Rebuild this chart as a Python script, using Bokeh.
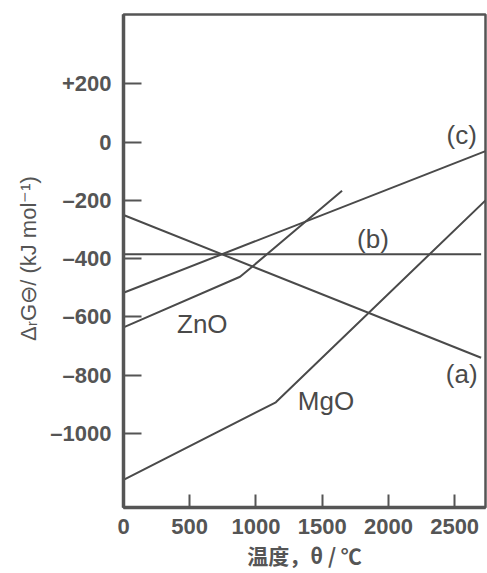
from bokeh.plotting import figure
from bokeh.models import FixedTicker, Range1d, Label
from bokeh.embed import file_html
from bokeh.resources import INLINE

# ---- data ----
x_ticks = [0, 500, 1000, 1500, 2000, 2500]
y_ticks = [200, 0, -200, -400, -600, -800, -1000]
y_tick_labels = ["+200", "0", "–200", "–400", "–600", "–800", "–1000"]

a_x = [0, 2700]
a_y = [-250, -740]

b_x = [0, 2700]
b_y = [-385, -385]

c_x = [0, 2733]
c_y = [-517, -31]

zno_x = [0, 880, 960, 1650]
zno_y = [-636, -462, -432, -167]

mgo_x = [0, 1150, 2733]
mgo_y = [-1159, -893, -200]

labels = ["(c)", "(b)", "(a)", "MgO", "ZnO"]

INK = "#4a4a4a"
AX = "#555555"

p = figure(width=487, height=572, output_backend="svg", toolbar_location=None,
           x_range=Range1d(0, 2733), y_range=Range1d(-1254, 438),
           min_border_left=123, min_border_top=14, min_border_right=2,
           min_border_bottom=60)
p.background_fill_color = "white"
p.border_fill_color = "white"
p.outline_line_color = AX
p.outline_line_width = 2.5
p.xgrid.visible = False
p.ygrid.visible = False

for xs, ys in [(a_x, a_y), (b_x, b_y), (c_x, c_y), (zno_x, zno_y), (mgo_x, mgo_y)]:
    p.line(xs, ys, line_color=INK, line_width=2)

# axes
p.xaxis.ticker = FixedTicker(ticks=x_ticks)
p.yaxis.ticker = FixedTicker(ticks=y_ticks)
p.yaxis.major_label_overrides = {t: l for t, l in zip(y_ticks, y_tick_labels)}
for ax in (p.xaxis, p.yaxis):
    ax.axis_line_color = AX
    ax.axis_line_width = 3.5
    ax.major_tick_line_color = AX
    ax.major_tick_line_width = 2
    ax.major_tick_out = 0
    ax.minor_tick_line_color = None
    ax.major_label_text_font = "Liberation Sans"
    ax.major_label_text_font_style = "bold"
    ax.major_label_text_font_size = "22px"
    ax.major_label_text_color = AX
    ax.axis_label_text_color = AX

p.yaxis.major_tick_in = 18
p.xaxis.major_tick_in = 13
p.yaxis.major_label_standoff = 12
p.xaxis.major_label_standoff = 11

p.yaxis.axis_label = "ΔᵣG⊖/ (kJ mol⁻¹)"
p.yaxis.axis_label_text_font = "Liberation Sans"
p.yaxis.axis_label_text_font_style = "normal"
p.yaxis.axis_label_text_font_size = "22px"
p.yaxis.axis_label_standoff = 6

p.xaxis.axis_label = "温度，θ / ℃"
p.xaxis.axis_label_text_font = "Noto Sans CJK SC"
p.xaxis.axis_label_text_font_style = "bold"
p.xaxis.axis_label_text_font_size = "21px"
p.xaxis.axis_label_standoff = 3

# curve annotations
label_pos = [(2553, 24), (1883, -333), (2553, -795), (1529, -887), (595, -625)]
for txt, (lx, ly) in zip(labels, label_pos):
    p.add_layout(Label(x=lx, y=ly, text=txt, text_align="center",
                       text_baseline="middle", text_font="Liberation Sans",
                       text_font_size="26px", text_color=INK))

open("out.html", "w").write(file_html(p, INLINE))
